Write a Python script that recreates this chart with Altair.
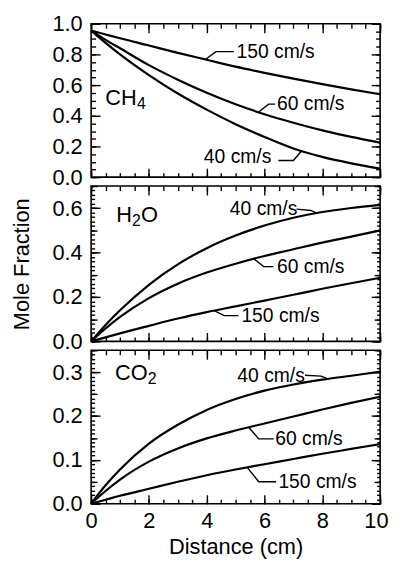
import altair as alt
import pandas as pd

FONT = "Liberation Sans"

# ---- data ----
distance = [0, 0.5, 1, 2, 3, 4, 5, 6, 7, 8, 9, 10]
speeds = ["40 cm/s", "60 cm/s", "150 cm/s"]

ch4_40 = [0.955, 0.875, 0.80, 0.665, 0.545, 0.44, 0.345, 0.262, 0.187, 0.132, 0.09, 0.055]
ch4_60 = [0.955, 0.895, 0.84, 0.73, 0.635, 0.55, 0.475, 0.41, 0.355, 0.305, 0.262, 0.225]
ch4_150 = [0.955, 0.93, 0.905, 0.858, 0.81, 0.765, 0.72, 0.68, 0.642, 0.606, 0.572, 0.54]

h2o_40 = [0, 0.074, 0.14, 0.255, 0.347, 0.42, 0.477, 0.522, 0.557, 0.583, 0.601, 0.615]
h2o_60 = [0, 0.058, 0.11, 0.195, 0.26, 0.31, 0.35, 0.385, 0.415, 0.445, 0.472, 0.50]
h2o_150 = [0, 0.018, 0.036, 0.07, 0.103, 0.132, 0.158, 0.184, 0.21, 0.237, 0.262, 0.287]

co2_40 = [0, 0.042, 0.078, 0.137, 0.18, 0.214, 0.239, 0.258, 0.272, 0.283, 0.292, 0.301]
co2_60 = [0, 0.029, 0.055, 0.096, 0.126, 0.149, 0.167, 0.183, 0.199, 0.215, 0.23, 0.244]
co2_150 = [0, 0.009, 0.018, 0.034, 0.05, 0.065, 0.078, 0.09, 0.102, 0.114, 0.125, 0.136]

# annotation labels: (text, x, y) and leader polylines (x list, y list)
ch4_labels = [("150 cm/s", 5.03, 0.818), ("60 cm/s", 6.43, 0.476), ("40 cm/s", 3.9, 0.13)]
ch4_leaders = [([3.94, 4.32, 4.94], [0.765, 0.818, 0.818]),
               ([5.8, 6.14, 6.37], [0.425, 0.476, 0.476]),
               ([6.48, 7.0, 7.28], [0.108, 0.108, 0.17])]
h2o_labels = [("40 cm/s", 4.8, 0.596), ("60 cm/s", 6.43, 0.337), ("150 cm/s", 5.2, 0.116)]
h2o_leaders = [([7.11, 7.6, 7.85], [0.596, 0.59, 0.576]),
               ([5.63, 5.97, 6.31], [0.372, 0.337, 0.337]),
               ([4.26, 4.6, 5.1], [0.139, 0.116, 0.116])]
co2_labels = [("40 cm/s", 5.06, 0.292), ("60 cm/s", 6.37, 0.147), ("150 cm/s", 6.48, 0.05)]
co2_leaders = [([7.4, 7.96, 8.19], [0.293, 0.291, 0.285]),
               ([5.46, 5.8, 6.32], [0.174, 0.148, 0.148]),
               ([5.4, 5.8, 6.4], [0.083, 0.05, 0.05])]

# species labels: main text, subscript, trailing text, position
ch4_species = ("CH", "4", "", 0.49, 0.515)
h2o_species = ("H", "2", "O", 0.87, 0.571)
co2_species = ("CO", "2", "", 0.83, 0.297)


def steps(stop, step):
    n = int(round(stop / step))
    return [round(i * step, 4) for i in range(n + 1)]


X_MAJOR = steps(10, 2)
X_MINOR = steps(10, 0.5)
TICK_W = 1.4


def long_df(series):
    rows = []
    for s, vals in zip(speeds, series):
        for x, y in zip(distance, vals):
            rows.append({"x": x, "y": y, "speed": s})
    return pd.DataFrame(rows)


def panel(series, ymax, ylabels, ytick_classes, height, last, ytitle,
          labels, leaders, species):
    df = long_df(series)
    xs = alt.Scale(domain=[0, 10], nice=False, zero=False)
    ys = alt.Scale(domain=[0, ymax], nice=False, zero=False)

    xaxis_kw = dict(values=X_MAJOR, format="d", ticks=False, tickSize=0, domain=False,
                    grid=False, labels=last, labelFlush=False, labelPadding=7, titlePadding=5,
                    labelAlign={"condition": {"test": "datum.value >= 10", "value": "right"},
                                "value": "center"},
                    labelOffset={"condition": {"test": "datum.value >= 10", "value": 8},
                                 "value": 0})
    if last:
        xaxis = alt.Axis(title="Distance (cm)", **xaxis_kw)
    else:
        xaxis = alt.Axis(title=None, **xaxis_kw)
    yaxis_kw = dict(values=ylabels, format=".1f", ticks=False, tickSize=0, domain=False,
                    grid=False, labelFlush=False, labelPadding=9, titlePadding=19)
    yaxis = alt.Axis(title=ytitle, **yaxis_kw) if ytitle else alt.Axis(title=None, **yaxis_kw)

    layers = [
        alt.Chart(df).mark_line(color="black", strokeWidth=2.2, interpolate="monotone").encode(
            x=alt.X("x:Q", scale=xs, axis=xaxis),
            y=alt.Y("y:Q", scale=ys, axis=yaxis),
            detail="speed:N",
        )
    ]

    x_classes = [(X_MAJOR, 9), (X_MINOR, 4.5)]
    classes = []
    for i, (yvals, ysize) in enumerate(ytick_classes):
        xv = x_classes[i] if i < len(x_classes) else None
        classes.append((xv, (yvals, ysize)))

    for xv, (yvals, ysize) in classes:
        for xo, yo in (("bottom", "left"), ("top", "right")):
            if xv:
                xa = alt.Axis(orient=xo, values=xv[0], tickSize=xv[1], offset=-xv[1], labels=False,
                              domain=False, grid=False, title=None, tickColor="black", tickWidth=TICK_W)
            else:
                xa = None
            ya = alt.Axis(orient=yo, values=yvals, tickSize=ysize, offset=-ysize, labels=False,
                          domain=False, grid=False, title=None, tickColor="black", tickWidth=TICK_W)
            layers.append(
                alt.Chart(df).mark_line(opacity=0).encode(
                    x=alt.X("x:Q", scale=xs, axis=xa),
                    y=alt.Y("y:Q", scale=ys, axis=ya),
                    detail="speed:N",
                )
            )

    # leader lines
    lrows = []
    for k, (lx, ly) in enumerate(leaders):
        for j, (a, b) in enumerate(zip(lx, ly)):
            lrows.append({"x": a, "y": b, "id": k, "o": j})
    layers.append(
        alt.Chart(pd.DataFrame(lrows)).mark_line(color="black", strokeWidth=1.4).encode(
            x=alt.X("x:Q", scale=xs, axis=None),
            y=alt.Y("y:Q", scale=ys, axis=None),
            detail="id:N",
            order="o:Q",
        )
    )
    # speed labels
    tdf = pd.DataFrame([{"t": t, "x": a, "y": b} for t, a, b in labels])
    layers.append(
        alt.Chart(tdf).mark_text(font=FONT, fontSize=19.5, align="left", baseline="middle", color="black").encode(
            x=alt.X("x:Q", scale=xs, axis=None),
            y=alt.Y("y:Q", scale=ys, axis=None),
            text="t:N",
        )
    )
    # species label with subscript
    main, sub, tail, sx, sy = species
    sdf = pd.DataFrame([{"x": sx, "y": sy, "m": main, "s": sub, "t": tail}])
    main_w = {"CH": 32, "H": 16, "CO": 33}[main]
    layers.append(
        alt.Chart(sdf).mark_text(font=FONT, fontSize=22, align="left", baseline="middle", color="black").encode(
            x=alt.X("x:Q", scale=xs, axis=None), y=alt.Y("y:Q", scale=ys, axis=None), text="m:N"))
    layers.append(
        alt.Chart(sdf).mark_text(font=FONT, fontSize=16, align="left", baseline="middle", color="black",
                                 dx=main_w, dy=6).encode(
            x=alt.X("x:Q", scale=xs, axis=None), y=alt.Y("y:Q", scale=ys, axis=None), text="s:N"))
    if tail:
        layers.append(
            alt.Chart(sdf).mark_text(font=FONT, fontSize=22, align="left", baseline="middle", color="black",
                                     dx=main_w + 9).encode(
                x=alt.X("x:Q", scale=xs, axis=None), y=alt.Y("y:Q", scale=ys, axis=None), text="t:N"))

    return (alt.layer(*layers)
            .resolve_scale(x="shared", y="shared")
            .resolve_axis(x="independent", y="independent")
            .properties(width=292, height=height))


p1 = panel([ch4_40, ch4_60, ch4_150], 1.0, steps(1.0, 0.2),
           [(steps(1.0, 0.2), 9), (steps(1.0, 0.05), 4.5)],
           155, False, None, ch4_labels, ch4_leaders, ch4_species)
p2 = panel([h2o_40, h2o_60, h2o_150], 0.7, steps(0.6, 0.2),
           [(steps(0.7, 0.2), 9), (steps(0.7, 0.02), 3.5), (steps(0.7, 0.1), 6)],
           157, False, "Mole Fraction", h2o_labels, h2o_leaders, h2o_species)
p3 = panel([co2_40, co2_60, co2_150], 0.35, steps(0.3, 0.1),
           [(steps(0.35, 0.1), 9), (steps(0.35, 0.01), 3.5), (steps(0.35, 0.05), 6)],
           155, True, None, co2_labels, co2_leaders, co2_species)

chart = (alt.vconcat(p1, p2, p3, spacing=9, bounds="flush")
         .properties(padding={"left": 1, "top": 1, "right": 0, "bottom": 0})
         .configure_view(stroke="black", strokeWidth=1.6)
         .configure_axis(labelFont=FONT, labelFontSize=22, labelColor="black",
                         titleFont=FONT, titleFontSize=22, titleFontWeight="normal",
                         titleColor="black"))

chart.save("out.html", embed_options={"renderer": "svg", "actions": False})
